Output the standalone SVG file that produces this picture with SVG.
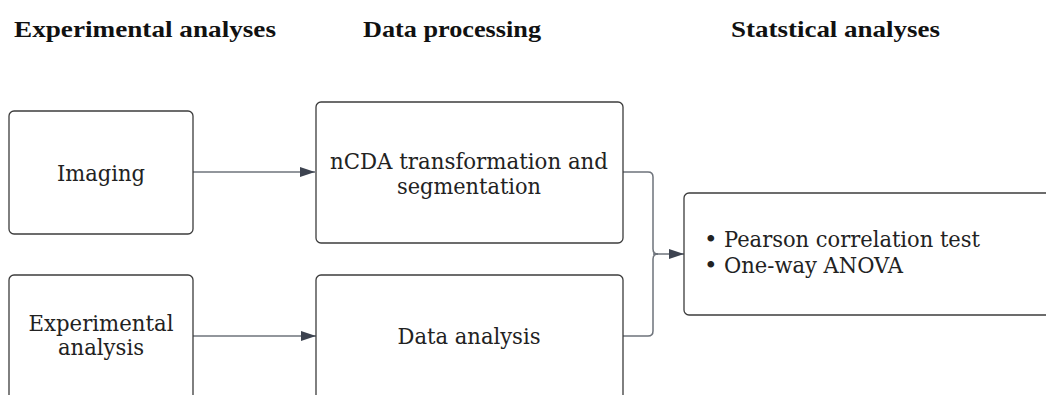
<svg xmlns="http://www.w3.org/2000/svg" width="1046" height="395" viewBox="0 0 1046 395">
<style>
.hdr{font-family:"Liberation Serif","DejaVu Serif",serif;font-weight:bold;font-size:24px;fill:#111}
.box{fill:#fff;stroke:#3c3c3c;stroke-width:1.3}
.lbl{font-family:"DejaVu Serif","Liberation Serif",serif;font-size:23px;fill:#222;text-anchor:middle}
.lft{font-family:"DejaVu Serif","Liberation Serif",serif;font-size:23px;fill:#222}
.con{fill:none;stroke:#6e737b;stroke-width:1.5}
</style>
<defs>
<marker id="arr" markerWidth="15" markerHeight="10" refX="15" refY="5" orient="auto" markerUnits="userSpaceOnUse">
<path d="M0,0 L15,5 L0,10 Z" fill="#3d4350"/>
</marker>
</defs>
<rect width="1046" height="395" fill="#fff"/>
<g id="headers">
<text class="hdr" x="14" y="37" textLength="262" lengthAdjust="spacingAndGlyphs">Experimental analyses</text>
<text class="hdr" x="363" y="37" textLength="178" lengthAdjust="spacingAndGlyphs">Data processing</text>
<text class="hdr" x="731" y="37" textLength="209" lengthAdjust="spacingAndGlyphs">Statstical analyses</text>
</g>
<g id="connectors">
<path class="con" d="M193,172 L315,172" marker-end="url(#arr)"/>
<path class="con" d="M193,336 L316,336" marker-end="url(#arr)"/>
<path class="con" d="M623,172 L648,172 Q653,172 653,177 L653,249 Q653,254 658,254"/>
<path class="con" d="M623,336 L648,336 Q653,336 653,331 L653,259 Q653,254 658,254"/>
<path class="con" d="M653,254 L684,254" marker-end="url(#arr)"/>
</g>
<g id="imaging">
<rect class="box" x="9" y="111" width="184" height="123" rx="5"/>
<text class="lbl" x="101" y="181" textLength="88" lengthAdjust="spacingAndGlyphs">Imaging</text>
</g>
<g id="ncda">
<rect class="box" x="316" y="102" width="307" height="141" rx="5"/>
<text class="lbl" x="469" y="169" textLength="278" lengthAdjust="spacingAndGlyphs">nCDA transformation and</text>
<text class="lbl" x="469" y="194" textLength="144" lengthAdjust="spacingAndGlyphs">segmentation</text>
</g>
<g id="experimental">
<rect class="box" x="9" y="275" width="184" height="126" rx="5"/>
<text class="lbl" x="101" y="331" textLength="145" lengthAdjust="spacingAndGlyphs">Experimental</text>
<text class="lbl" x="101" y="355" textLength="86" lengthAdjust="spacingAndGlyphs">analysis</text>
</g>
<g id="data-analysis">
<rect class="box" x="316" y="275" width="307" height="126" rx="5"/>
<text class="lbl" x="469" y="344" textLength="143" lengthAdjust="spacingAndGlyphs">Data analysis</text>
</g>
<g id="stats">
<rect class="box" x="684" y="193" width="380" height="122" rx="5"/>
<text class="lft" x="704" y="247">•</text>
<text class="lft" x="724" y="247" textLength="256" lengthAdjust="spacingAndGlyphs">Pearson correlation test</text>
<text class="lft" x="704" y="273">•</text>
<text class="lft" x="724" y="273" textLength="179" lengthAdjust="spacingAndGlyphs">One-way ANOVA</text>
</g>
</svg>
